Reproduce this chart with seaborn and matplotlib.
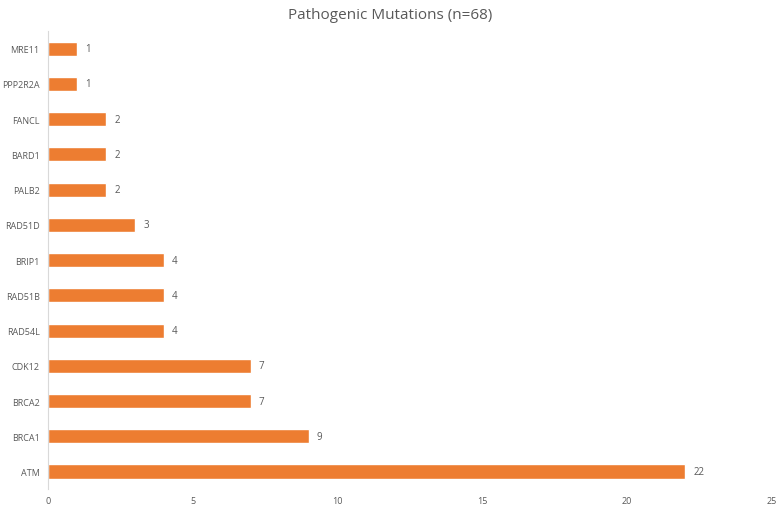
import matplotlib
matplotlib.use("Agg")
import matplotlib.pyplot as plt
import seaborn as sns
import pandas as pd

genes = ["MRE11", "PPP2R2A", "FANCL", "BARD1", "PALB2", "RAD51D", "BRIP1",
         "RAD51B", "RAD54L", "CDK12", "BRCA2", "BRCA1", "ATM"]
counts = [1, 1, 2, 2, 2, 3, 4, 4, 4, 7, 7, 9, 22]
x_ticks = [0, 5, 10, 15, 20, 25]

df = pd.DataFrame({"gene": genes, "count": counts})

sns.set_style("white")
plt.rcParams["font.family"] = ["Open Sans", "DejaVu Sans"]
text_col = "#595959"

fig = plt.figure(figsize=(7.8, 5.1), dpi=100)
ax = fig.add_axes([0.0615, 0.039, 0.928, 0.898])
sns.barplot(data=df, x="count", y="gene", color="#ED7D31", saturation=1,
            width=0.4, orient="h", ax=ax)

for c in ax.containers:
    ax.bar_label(c, padding=6, fontsize=7, color=text_col)

ax.set_xlim(0, 25)
ax.set_xticks(x_ticks)
ax.set_xlabel("")
ax.set_ylabel("")
ax.tick_params(axis="both", length=0, labelsize=6.5, colors=text_col)
ax.tick_params(axis="x", pad=5)
ax.tick_params(axis="y", pad=6)
for s in ["top", "right", "bottom"]:
    ax.spines[s].set_visible(False)
ax.spines["left"].set_color("#d9d9d9")
ax.spines["left"].set_linewidth(0.8)

fig.suptitle("Pathogenic Mutations (n=68)", y=0.985, fontsize=11, color=text_col)

fig.savefig("out.png", dpi=100)
